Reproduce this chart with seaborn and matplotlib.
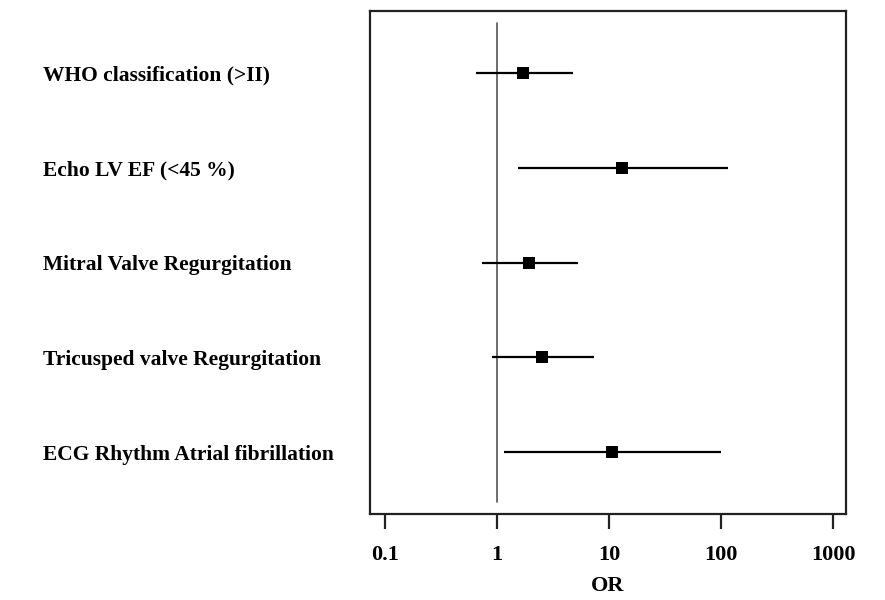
import numpy as np
import pandas as pd
import matplotlib
matplotlib.use("Agg")
import matplotlib.pyplot as plt
import seaborn as sns

# data
labels = ['WHO classification (>II)',
          'Echo LV EF (<45 %)',
          'Mitral Valve Regurgitation',
          'Tricusped valve Regurgitation',
          'ECG Rhythm Atrial fibrillation']
odds_ratio = [1.71, 13.1, 1.93, 2.52, 10.6]
ci_low = [0.65, 1.54, 0.73, 0.90, 1.15]
ci_high = [4.77, 115, 5.29, 7.35, 100]
x_ticks = [0.1, 1, 10, 100, 1000]
x_tick_labels = ['0.1', '1', '10', '100', '1000']

df = pd.DataFrame({'label': labels, 'OR': odds_ratio, 'lo': ci_low, 'hi': ci_high})

sns.set_style('white')
plt.rcParams['font.family'] = ['Liberation Serif', 'DejaVu Serif']
plt.rcParams['font.weight'] = 'bold'
plt.rcParams['text.color'] = 'black'
plt.rcParams['axes.labelcolor'] = 'black'
plt.rcParams['xtick.color'] = 'black'
plt.rcParams['ytick.color'] = 'black'

fig = plt.figure(figsize=(8.85, 6), dpi=100)
ax = fig.add_axes([0.418, 0.143, 0.538, 0.839])

# confidence intervals
ax.hlines(y=df['label'], xmin=df['lo'], xmax=df['hi'], color='black', linewidth=1.6, zorder=2)
# point estimates
sns.scatterplot(data=df, x='OR', y='label', marker='s', s=85, color='black',
                edgecolor='black', linewidth=0, ax=ax, zorder=3)

# reference line at OR = 1
ax.axvline(1, ymin=0.025, ymax=0.975, color='#555555', linewidth=1.2, zorder=1)

ax.set_xscale('log')
ax.set_xlim(0.0735, 1306)
ax.set_ylim(4.65, -0.65)
ax.set_xticks(x_ticks)
ax.set_xticklabels(x_tick_labels)
ax.minorticks_off()
ax.set_xlabel('OR', fontsize=16, fontweight='bold', labelpad=8)
ax.set_ylabel('')

ax.tick_params(axis='x', direction='out', length=11, width=1.6, color='#222222',
               labelsize=16, pad=11, bottom=True)
ax.tick_params(axis='y', length=0, labelsize=15.5, pad=235.5)
for t in ax.get_yticklabels():
    t.set_horizontalalignment('left')
    t.set_fontweight('bold')
for t in ax.get_xticklabels():
    t.set_fontweight('bold')

for sp in ax.spines.values():
    sp.set_visible(True)
    sp.set_linewidth(1.6)
    sp.set_color('#222222')

fig.savefig('out.png', dpi=100)
